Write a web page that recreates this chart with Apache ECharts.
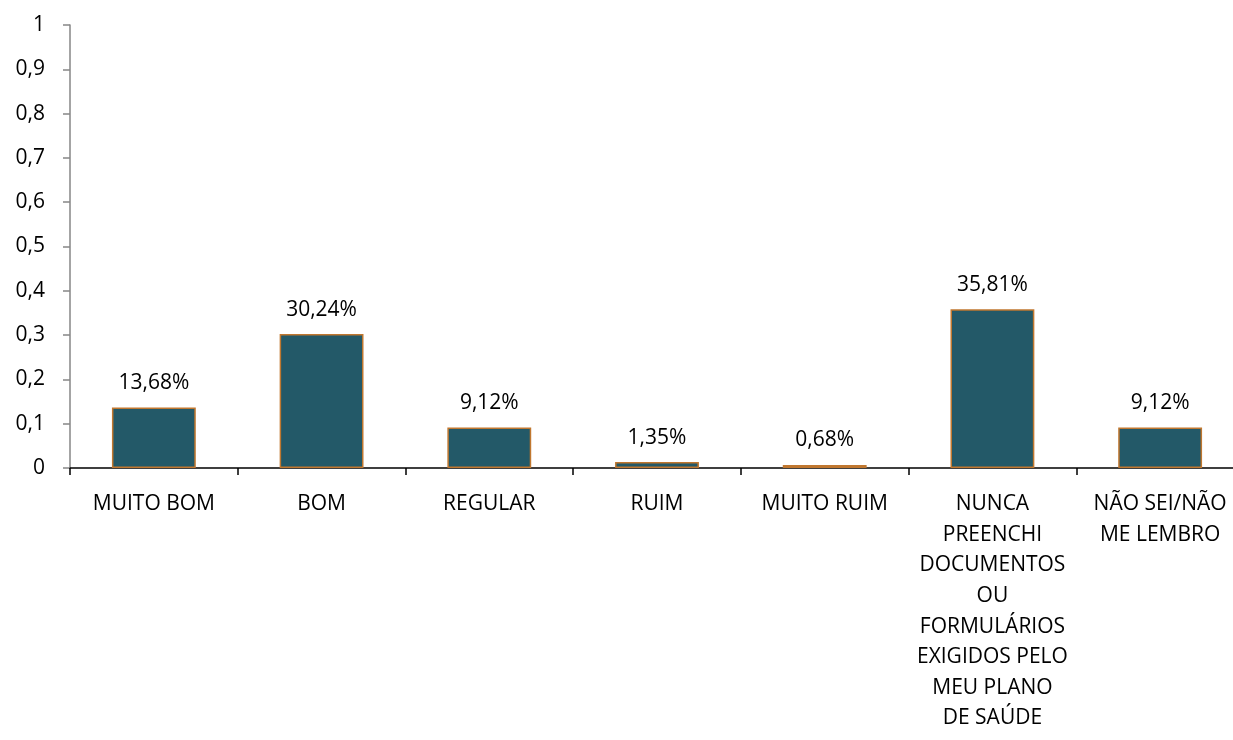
<!DOCTYPE html>
<html>
<head>
<meta charset="utf-8">
<script src="https://cdn.jsdelivr.net/npm/echarts@6/dist/echarts.min.js"></script>
<style>
  html, body { margin: 0; padding: 0; background: #fff; }
  #main { width: 1233px; height: 740px; }
</style>
</head>
<body>
<div id="main"></div>
<script>
const categories = [
  'MUITO BOM',
  'BOM',
  'REGULAR',
  'RUIM',
  'MUITO RUIM',
  'NUNCA\nPREENCHI\nDOCUMENTOS\nOU\nFORMULÁRIOS\nEXIGIDOS PELO\nMEU PLANO\nDE SAÚDE',
  'NÃO SEI/NÃO\nME LEMBRO'
]
const values = [0.1368, 0.3024, 0.0912, 0.0135, 0.0068, 0.3581, 0.0912]
const yTicks = { min: 0, max: 1, interval: 0.1 }

const font = 'Open Sans'
const chart = echarts.init(document.getElementById('main'))
chart.setOption({
  animation: false,
  grid: { left: 70, top: 25, width: 1174, height: 443, outerBoundsMode: 'none', containLabel: false },
  xAxis: {
    type: 'category',
    data: categories,
    axisLine: { lineStyle: { color: '#000', width: 1.5 } },
    axisTick: { show: true, length: 7, lineStyle: { color: '#000', width: 1.5 } },
    axisLabel: {
      interval: 0,
      margin: 21,
      fontFamily: font,
      fontSize: 21,
      color: '#000',
      lineHeight: 30.6,
      align: 'center'
    }
  },
  yAxis: {
    type: 'value',
    min: yTicks.min,
    max: yTicks.max,
    interval: yTicks.interval,
    splitLine: { show: false },
    axisLine: { show: true, lineStyle: { color: '#868686', width: 1.5 } },
    axisTick: { show: true, length: 7, lineStyle: { color: '#868686', width: 1.5 } },
    axisLabel: {
      margin: 25,
      fontFamily: font,
      fontSize: 21,
      color: '#000',
      formatter: v => String(Math.round(v * 10) / 10).replace('.', ',')
    }
  },
  series: [{
    type: 'bar',
    data: values,
    barWidth: '50%',
    itemStyle: { color: '#235968', borderColor: '#c0772f', borderWidth: 1.5 },
    label: {
      show: true,
      position: 'top',
      distance: 14,
      fontFamily: font,
      fontSize: 21,
      color: '#000',
      formatter: p => (p.value * 100).toFixed(2).replace('.', ',') + '%'
    }
  }]
})
</script>
</body>
</html>
